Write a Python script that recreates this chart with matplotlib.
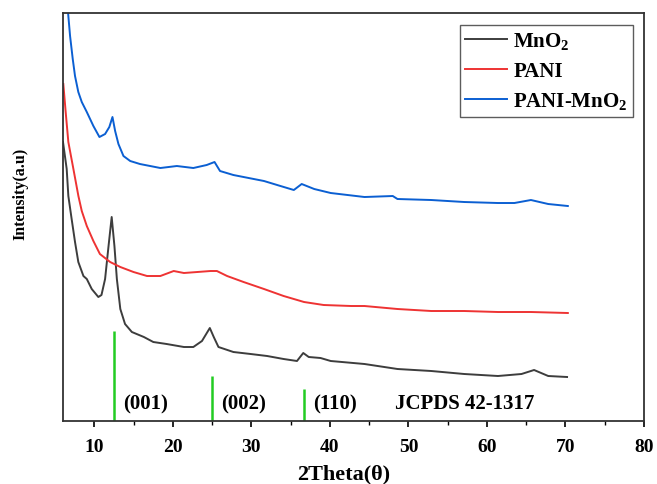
import matplotlib
matplotlib.use("Agg")
import matplotlib.pyplot as plt

plt.rcParams['font.family'] = ['Liberation Serif', 'DejaVu Serif']
plt.rcParams['font.weight'] = 'bold'
plt.rcParams['mathtext.fontset'] = 'custom'
plt.rcParams['mathtext.rm'] = 'Liberation Serif:bold'
plt.rcParams['mathtext.bf'] = 'Liberation Serif:bold'

# MnO2 (grey)
mno2_x = [6.0, 6.47, 6.68, 7.1, 7.53, 7.95, 8.6, 9.03, 9.66, 10.5, 10.9, 11.36, 11.8, 12.2,
          12.55, 12.86, 13.3, 13.9, 14.77, 16.3, 17.5, 19.2, 21.4, 22.6, 23.7, 24.7, 25.2,
          25.8, 27.7, 29.9, 32.0, 34.1, 35.8, 36.6, 37.3, 38.8, 40.1, 44.4, 48.6, 52.9,
          57.1, 61.4, 64.4, 66.0, 67.8, 70.2]
mno2_y = [279, 252, 225, 202, 179, 159, 145, 142, 132, 124, 126, 142, 175, 204,
          175, 142, 112, 97, 89, 84, 79, 77, 74, 74, 80, 93, 84,
          74, 69, 67, 65, 62, 60, 68, 64, 63, 60, 57, 52, 50,
          47, 45, 47, 51, 45, 44]

# PANI (red)
pani_x = [6.04, 6.34, 6.68, 7.3, 7.96, 8.39, 9.03, 9.87, 10.7, 12.0, 13.3, 14.98, 16.7,
          18.4, 20.1, 21.4, 23.1, 24.8, 25.6, 26.9, 29.0, 31.6, 34.1, 36.7, 39.2, 42.7,
          44.4, 48.6, 52.9, 57.1, 61.4, 65.6, 70.3]
pani_y = [337, 309, 279, 253, 225, 210, 195, 180, 167, 159, 154, 149, 145,
          145, 150, 148, 149, 150, 150, 145, 139, 132, 125, 119, 116, 115,
          115, 112, 110, 110, 109, 109, 108]

# PANI-MnO2 (blue)
pm_x = [6.3, 6.68, 6.9, 7.24, 7.53, 7.95, 8.39, 9.03, 9.87, 10.64, 11.36, 11.9, 12.3,
        12.64, 13.06, 13.7, 14.56, 15.8, 17.1, 18.4, 20.5, 22.6, 24.3, 25.3, 26.0, 27.7,
        29.0, 31.6, 33.7, 35.4, 36.4, 38.0, 40.1, 44.4, 48.0, 48.6, 52.9, 57.1, 61.4,
        63.5, 65.6, 67.8, 70.3]
pm_y = [440, 405, 385, 362, 345, 329, 319, 309, 295, 284, 287, 294, 304,
        290, 277, 265, 260, 257, 255, 253, 255, 253, 256, 259, 250, 246,
        244, 240, 235, 231, 237, 232, 228, 224, 225, 222, 221, 219, 218,
        218, 221, 217, 215]

# JCPDS 42-1317 reference lines
ref_pos = [12.5, 25.0, 36.7]
ref_height = [90, 45, 32]
ref_labels = ['(001)', '(002)', '(110)']

fig = plt.figure(figsize=(6.57, 4.85), dpi=100)
ax = fig.add_axes([0.0959, 0.1299, 0.8843, 0.8412])

ax.plot(mno2_x, mno2_y, color='#3d3d3d', lw=1.4, label='MnO$_2$')
ax.plot(pani_x, pani_y, color='#ee3333', lw=1.4, label='PANI')
ax.plot(pm_x, pm_y, color='#0b5fd2', lw=1.4, label='PANI-MnO$_2$')

for p, h, t in zip(ref_pos, ref_height, ref_labels):
    ax.vlines(p, 0, h, color='#22cc22', lw=1.8)
    ax.text(p + 1.2, 18, t, fontsize=15, fontweight='bold', va='center')
ax.text(48.3, 18, 'JCPDS 42-1317', fontsize=15, fontweight='bold', va='center')

ax.set_xlim(6, 80)
ax.set_ylim(0, 408)
ax.set_xticks(range(10, 81, 10))
ax.set_xticks(range(15, 80, 10), minor=True)
ax.set_yticks([])
ax.tick_params(axis='x', direction='out', length=4, width=1.2, labelsize=14, pad=8)
ax.tick_params(axis='x', which='minor', direction='out', length=3, width=1.0)
for lab in ax.get_xticklabels():
    lab.set_fontweight('bold')
for s in ax.spines.values():
    s.set_linewidth(1.3)
    s.set_color('#333333')

ax.set_xlabel('2Theta(θ)', fontsize=16, fontweight='bold')
ax.xaxis.set_label_coords(0.4836, -0.103)
ax.set_ylabel('Intensity(a.u)', fontsize=11.5, fontweight='bold')
ax.yaxis.set_label_coords(-0.060, 0.559)

leg = ax.legend(loc='upper right', bbox_to_anchor=(0.981, 0.971), fontsize=15,
                frameon=True, fancybox=False, edgecolor='#333333', handlelength=2.0,
                handletextpad=0.3, labelspacing=0.45, borderaxespad=0, borderpad=0.25)
leg.get_frame().set_linewidth(1.0)

fig.savefig('out.png', dpi=100)
